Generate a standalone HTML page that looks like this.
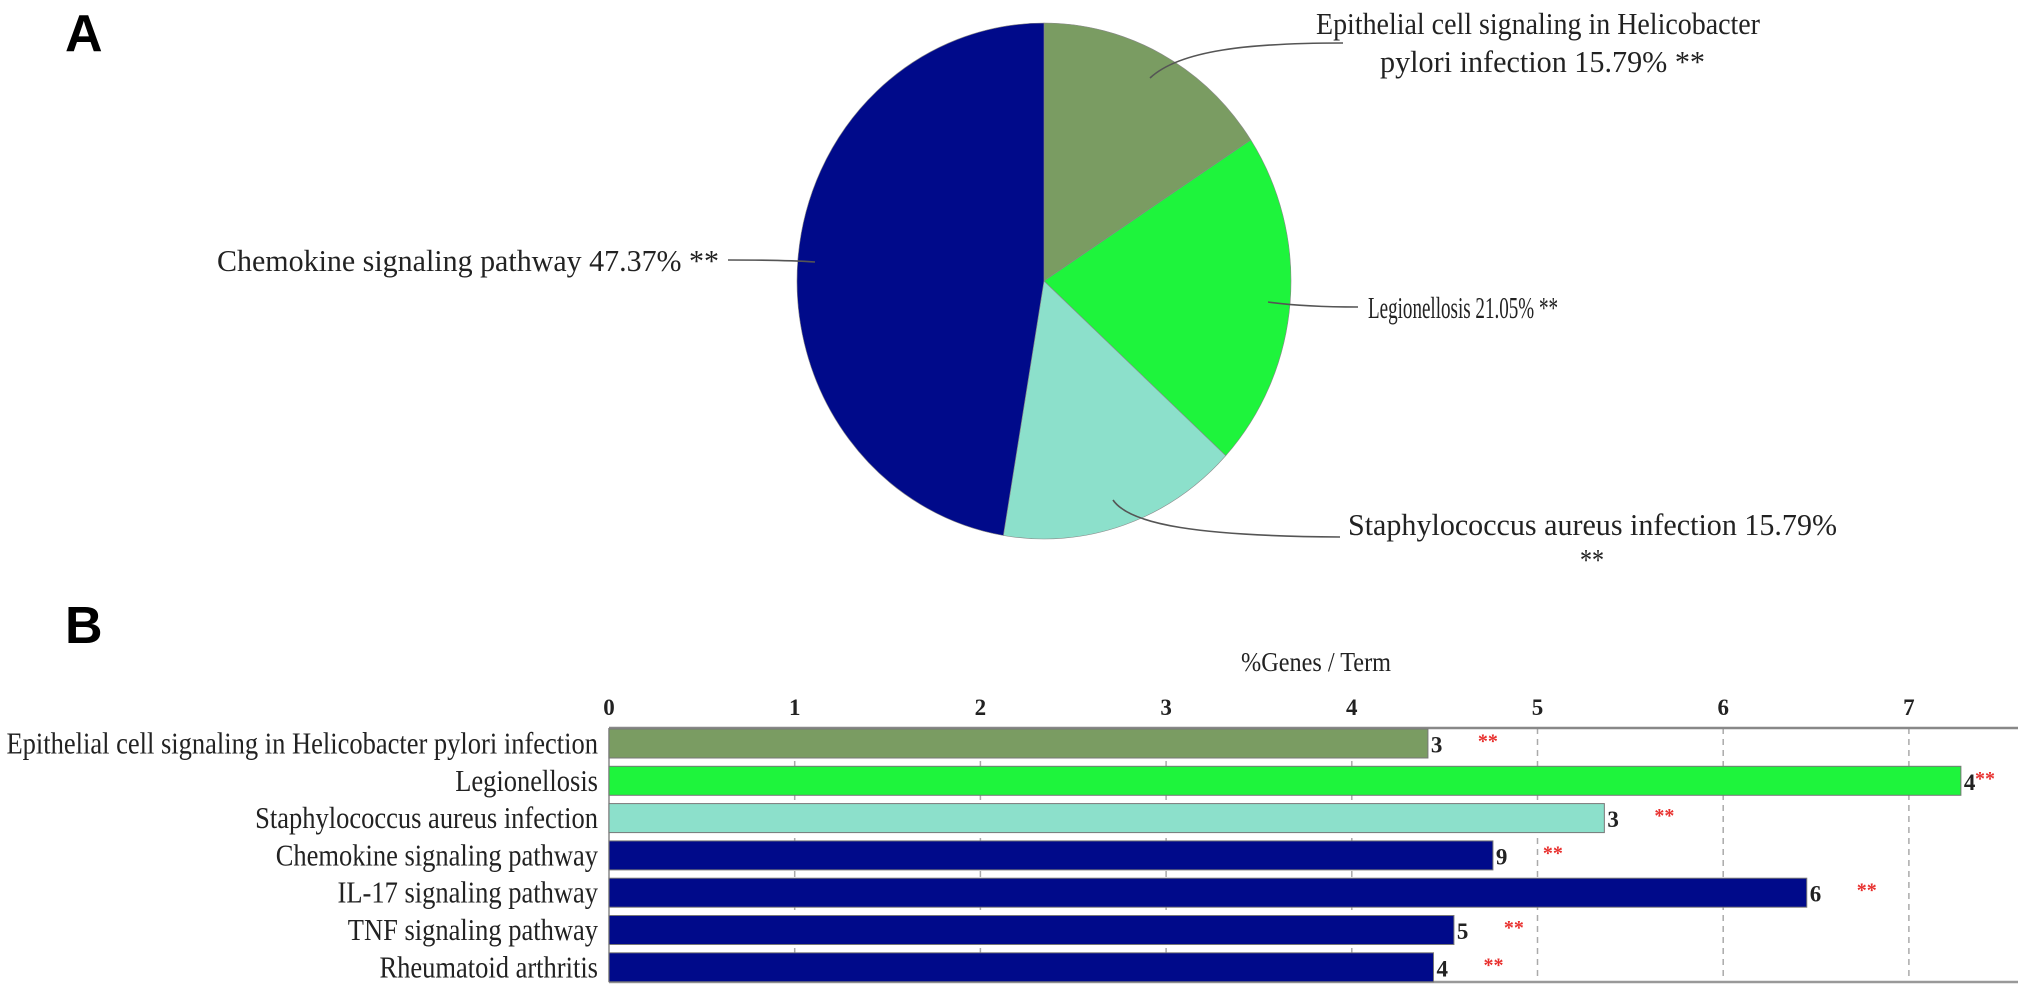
<!DOCTYPE html>
<html><head><meta charset="utf-8"><style>
html,body{margin:0;padding:0;background:#fff;}
svg{display:block;}
.serif{font-family:"Liberation Serif",serif;fill:#222;}
</style></head><body>
<svg id="chart" width="2031" height="993" viewBox="0 0 2031 993" xmlns="http://www.w3.org/2000/svg">
<text x="65" y="51" font-family="Liberation Sans, sans-serif" font-weight="bold" font-size="52" fill="#000">A</text>
<text x="65" y="643" font-family="Liberation Sans, sans-serif" font-weight="bold" font-size="52" fill="#000">B</text>
<g id="pie"></g>
<g id="bars"></g>
</svg>
<script>
const NS="http://www.w3.org/2000/svg";
// Pie data
const pieNames=["Epithelial cell signaling in Helicobacter pylori infection","Legionellosis","Staphylococcus aureus infection","Chemokine signaling pathway"];
const pieValues=[15.79,21.05,15.79,47.37];
const pieColors=["#7a9c62","#1ef43c","#8ce0cb","#000a8a"];
// Bar data
const barCategories=["Epithelial cell signaling in Helicobacter pylori infection","Legionellosis","Staphylococcus aureus infection","Chemokine signaling pathway","IL-17 signaling pathway","TNF signaling pathway","Rheumatoid arthritis"];
const barValues=[4.41,7.28,5.36,4.76,6.45,4.55,4.44];
const barCounts=["3","4","3","9","6","5","4"];
const barColors=["#7a9c62","#1ef43c","#8ce0cb","#000a8a","#000a8a","#000a8a","#000a8a"];
const xTicks=[0,1,2,3,4,5,6,7];

function mk(tag,attrs,parent){const e=document.createElementNS(NS,tag);for(const k in attrs)e.setAttribute(k,attrs[k]);parent.appendChild(e);return e;}

// ---- Pie ----
const pie=document.getElementById('pie');
const cx=1044,cy=281,rx=247,ry=258;
const total=pieValues.reduce((a,b)=>a+b,0);
function pt(frac){const a=frac*2*Math.PI;return [cx+rx*Math.sin(a),cy-ry*Math.cos(a)];}
let acc=0;
pieValues.forEach((v,i)=>{
  const s=acc/total;acc+=v;const e=acc/total;
  const p0=pt(s),p1=pt(e);const large=(e-s)>0.5?1:0;
  const path=mk('path',{d:`M${cx},${cy} L${p0[0]},${p0[1]} A${rx},${ry} 0 ${large} 1 ${p1[0]},${p1[1]} Z`,fill:pieColors[i],stroke:"#888",'stroke-width':0.6},pie);
  
  
});
// leader lines
const leaders=["M1343,43 C1250,43 1180,50 1150,78","M1358,307 C1320,307 1290,305 1268,302","M1113,500 C1130,525 1200,536 1340,537","M728,260 C770,260 800,261 815,262"];
leaders.forEach((d,i)=>{const l=mk('path',{d:d,fill:"none",stroke:"#555",'stroke-width':1.6},pie);
  
  });
const pieLabels=[
 {t:"Epithelial cell signaling in Helicobacter",x:1316,y:34,w:444,a:"start"},
 {t:"pylori infection "+pieValues[0].toFixed(2)+"% **",x:1380,y:72,w:325,a:"start"},
 {t:pieNames[1]+" "+pieValues[1].toFixed(2)+"% **",x:1368,y:318,w:190,a:"start"},
 {t:pieNames[2]+" "+pieValues[2].toFixed(2)+"%",x:1348,y:535,w:489,a:"start"},
 {t:"**",x:1580,y:570,w:24,a:"start"},
 {t:pieNames[3]+" "+pieValues[3].toFixed(2)+"% **",x:217,y:271,w:502,a:"start"}
];
pieLabels.forEach((L,i)=>{const t=mk('text',{x:L.x,y:L.y,'font-size':31,'text-anchor':L.a,textLength:L.w,lengthAdjust:"spacingAndGlyphs",class:"serif"},pie);
  t.textContent=L.t;
  
  });

// ---- Bars ----
const bars=document.getElementById('bars');
const x0=609,unit=185.7,top0=729,step=37.3,bh=29,axisTop=728,axisBottom=982,axisEnd=2018;
const xs=v=>x0+v*unit;
const t=mk('text',{x:1316,y:671,'font-size':27,'text-anchor':"middle",class:"serif",textLength:150,lengthAdjust:"spacingAndGlyphs"},bars);
t.textContent="%Genes / Term";


xTicks.forEach(v=>{
  if(v>0){const g=mk('line',{x1:xs(v),x2:xs(v),y1:axisTop,y2:axisBottom,stroke:"#aaa",'stroke-width':1.5,'stroke-dasharray':"6,5"},bars);
    
    }
  const lb=mk('text',{x:xs(v),y:715,'font-size':23,'font-weight':"bold",'text-anchor':"middle",class:"serif"},bars);
  lb.textContent=String(v);
  
  
});
const ax=mk('line',{x1:x0,x2:axisEnd,y1:axisTop,y2:axisTop,stroke:"#888",'stroke-width':2.5},bars);


const ax2=mk('line',{x1:x0,x2:axisEnd,y1:axisBottom,y2:axisBottom,stroke:"#999",'stroke-width':2.5},bars);


const ay=mk('line',{x1:x0,x2:x0,y1:axisTop,y2:axisBottom,stroke:"#888",'stroke-width':1.5},bars);


barCategories.forEach((c,i)=>{
  const y=top0+i*step;
  const r=mk('rect',{x:x0,y:y,width:xs(barValues[i])-x0,height:bh,fill:barColors[i],stroke:"#777",'stroke-width':1},bars);
  
  
  const lab=mk('text',{x:0,y:0,'font-size':31,'text-anchor':"end",class:"serif",transform:`translate(598,${y+bh/2+10}) scale(0.855,1)`},bars);
  lab.textContent=c;
  
  
  const cn=mk('text',{x:xs(barValues[i])+3,y:y+bh/2+9,'font-size':23,'font-weight':"bold",class:"serif"},bars);
  cn.textContent=barCounts[i];
  
  
  const st=mk('text',{x:Math.min(xs(barValues[i])+50,1975),y:y+bh/2+4,'font-size':20,'font-weight':"bold",fill:"#e8302e",'font-family':"Liberation Serif, serif"},bars);
  st.textContent="**";
  
  
});
</script>
</body></html>
